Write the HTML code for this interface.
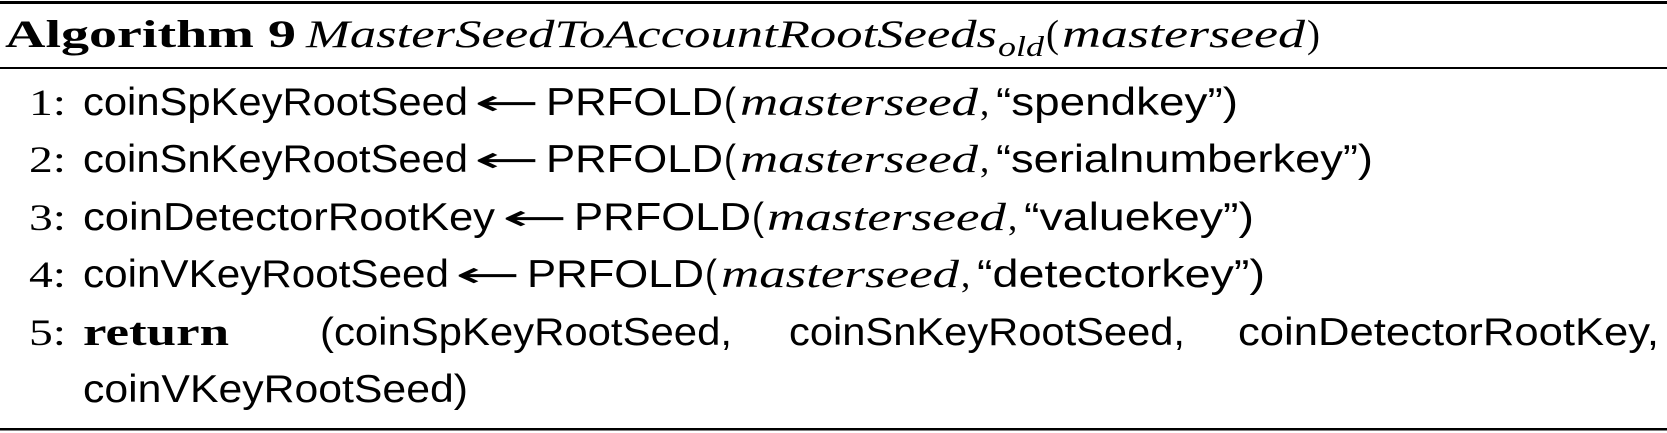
<!DOCTYPE html>
<html><head><meta charset="utf-8"><style>
html,body{margin:0;padding:0;background:#fff;width:1667px;height:433px;overflow:hidden}
svg{display:block}
.s{font-family:"Liberation Sans",sans-serif;font-size:39px}
.r{font-family:"Liberation Serif",serif;font-size:37px}
.a{font-family:"DejaVu Sans",sans-serif;font-size:36px}
.i{font-family:"Liberation Serif",serif;font-style:italic;font-size:39px}
.b{font-family:"Liberation Serif",serif;font-weight:bold;font-size:39px}
</style></head><body>
<svg width="1667" height="433" xmlns="http://www.w3.org/2000/svg">
<rect x="0" y="1" width="1667" height="3" fill="#000"/>
<rect x="0" y="67" width="1667" height="2" fill="#000"/>
<rect x="0" y="428" width="1667" height="2.5" fill="#000"/>

<text class="b" x="5" y="47" textLength="291" lengthAdjust="spacingAndGlyphs">Algorithm 9</text>
<text class="i" x="306" y="47" textLength="691" lengthAdjust="spacingAndGlyphs">MasterSeedToAccountRootSeeds</text>
<text class="i" x="998" y="56" style="font-size:28px" textLength="46" lengthAdjust="spacingAndGlyphs">old</text>
<text class="r" x="1046" y="47" style="font-size:39px" textLength="13" lengthAdjust="spacingAndGlyphs">(</text>
<text class="i" x="1062" y="47" textLength="243" lengthAdjust="spacingAndGlyphs">masterseed</text>
<text class="r" x="1307" y="47" style="font-size:39px" textLength="13" lengthAdjust="spacingAndGlyphs">)</text>

<!-- line 1 -->
<text class="r" x="29" y="115" textLength="37" lengthAdjust="spacingAndGlyphs">1:</text>
<text class="s" x="83" y="115" textLength="385" lengthAdjust="spacingAndGlyphs">coinSpKeyRootSeed</text>
<text class="a" x="474" y="115" textLength="66" lengthAdjust="spacingAndGlyphs">←</text>
<text class="s" x="546" y="115" textLength="177" lengthAdjust="spacingAndGlyphs">PRFOLD</text>
<text class="s" x="724" y="115" textLength="12" lengthAdjust="spacingAndGlyphs">(</text>
<text class="i" x="740" y="115" textLength="238" lengthAdjust="spacingAndGlyphs">masterseed</text>
<text class="r" x="980" y="115">,</text>
<text class="s" x="996" y="115" textLength="242" lengthAdjust="spacingAndGlyphs">“spendkey”)</text>

<!-- line 2 -->
<text class="r" x="29" y="172" textLength="37" lengthAdjust="spacingAndGlyphs">2:</text>
<text class="s" x="83" y="172" textLength="385" lengthAdjust="spacingAndGlyphs">coinSnKeyRootSeed</text>
<text class="a" x="474" y="172" textLength="66" lengthAdjust="spacingAndGlyphs">←</text>
<text class="s" x="546" y="172" textLength="177" lengthAdjust="spacingAndGlyphs">PRFOLD</text>
<text class="s" x="724" y="172" textLength="12" lengthAdjust="spacingAndGlyphs">(</text>
<text class="i" x="740" y="172" textLength="238" lengthAdjust="spacingAndGlyphs">masterseed</text>
<text class="r" x="980" y="172">,</text>
<text class="s" x="996" y="172" textLength="377" lengthAdjust="spacingAndGlyphs">“serialnumberkey”)</text>

<!-- line 3 -->
<text class="r" x="29" y="230" textLength="37" lengthAdjust="spacingAndGlyphs">3:</text>
<text class="s" x="83" y="230" textLength="412" lengthAdjust="spacingAndGlyphs">coinDetectorRootKey</text>
<text class="a" x="502" y="230" textLength="66" lengthAdjust="spacingAndGlyphs">←</text>
<text class="s" x="574" y="230" textLength="177" lengthAdjust="spacingAndGlyphs">PRFOLD</text>
<text class="s" x="752" y="230" textLength="12" lengthAdjust="spacingAndGlyphs">(</text>
<text class="i" x="767" y="230" textLength="239" lengthAdjust="spacingAndGlyphs">masterseed</text>
<text class="r" x="1008" y="230">,</text>
<text class="s" x="1024" y="230" textLength="230" lengthAdjust="spacingAndGlyphs">“valuekey”)</text>

<!-- line 4 -->
<text class="r" x="29" y="287" textLength="37" lengthAdjust="spacingAndGlyphs">4:</text>
<text class="s" x="83" y="287" textLength="366" lengthAdjust="spacingAndGlyphs">coinVKeyRootSeed</text>
<text class="a" x="455" y="287" textLength="66" lengthAdjust="spacingAndGlyphs">←</text>
<text class="s" x="527" y="287" textLength="177" lengthAdjust="spacingAndGlyphs">PRFOLD</text>
<text class="s" x="705" y="287" textLength="12" lengthAdjust="spacingAndGlyphs">(</text>
<text class="i" x="721" y="287" textLength="238" lengthAdjust="spacingAndGlyphs">masterseed</text>
<text class="r" x="961" y="287">,</text>
<text class="s" x="977" y="287" textLength="288" lengthAdjust="spacingAndGlyphs">“detectorkey”)</text>

<!-- line 5 -->
<text class="r" x="29" y="345" textLength="37" lengthAdjust="spacingAndGlyphs">5:</text>
<text class="b" x="83" y="345" textLength="146" lengthAdjust="spacingAndGlyphs">return</text>
<text class="s" x="320" y="345" textLength="412" lengthAdjust="spacingAndGlyphs">(coinSpKeyRootSeed,</text>
<text class="s" x="789" y="345" textLength="396" lengthAdjust="spacingAndGlyphs">coinSnKeyRootSeed,</text>
<text class="s" x="1238" y="345" textLength="421" lengthAdjust="spacingAndGlyphs">coinDetectorRootKey,</text>

<!-- line 6 -->
<text class="s" x="83" y="402" textLength="385" lengthAdjust="spacingAndGlyphs">coinVKeyRootSeed)</text>
</svg>
</body></html>
